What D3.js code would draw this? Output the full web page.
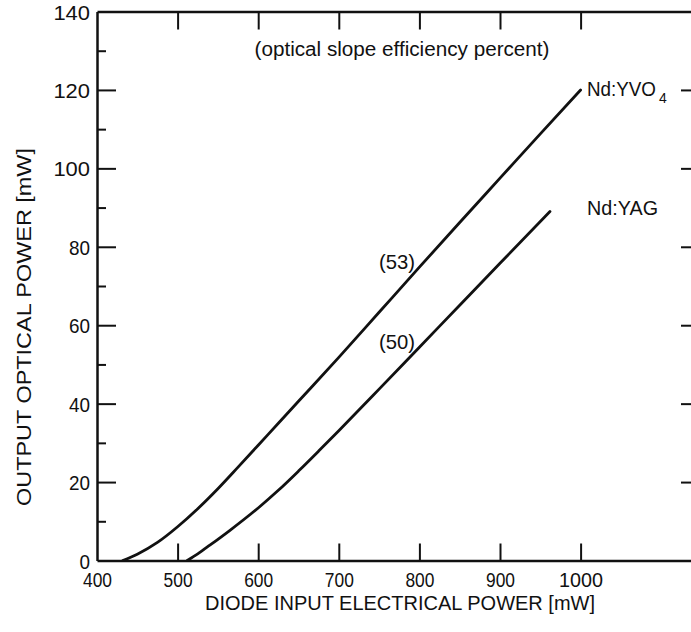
<!DOCTYPE html>
<html>
<head>
<meta charset="utf-8">
<script src="https://cdn.jsdelivr.net/npm/d3@7"></script>
<style>
  html, body { margin: 0; padding: 0; background: #fff; }
  svg { display: block; }
  text { font-family: "Liberation Sans", Arial, sans-serif; fill: #111; }
</style>
</head>
<body>
<script>
// ---- data ----
const yvo4X = [432, 450, 475, 500, 525, 550, 575, 600, 625, 650, 700, 750, 800, 850, 900, 950, 1000];
const yvo4Y = [0, 1.6, 4.6, 8.6, 13.2, 18.3, 23.8, 29.4, 35, 40.6, 51.8, 63.3, 74.8, 86.2, 97.5, 108.8, 120];
const yagX = [512, 525, 540, 565, 600, 625, 650, 675, 700, 750, 800, 850, 900, 962];
const yagY = [0, 1.7, 3.9, 7.7, 13.4, 17.9, 22.8, 27.9, 33.1, 43.7, 54.4, 65.1, 75.8, 89];
const xTicks = [400, 500, 600, 700, 800, 900, 1000];
const yTicks = [0, 20, 40, 60, 80, 100, 120, 140];
const yMinor = [10, 30, 50, 70, 90, 110, 130];
const seriesNames = ["Nd:YVO", "Nd:YAG"];
const subscript = "4";
const slopeLabels = ["(53)", "(50)"];
const xTitle = "DIODE INPUT ELECTRICAL POWER [mW]";
const yTitle = "OUTPUT OPTICAL POWER [mW]";
const note = "(optical slope efficiency percent)";

const W = 691, H = 632;
const svg = d3.select("body").append("svg").attr("width", W).attr("height", H);

const x = d3.scaleLinear().domain([400, 1150]).range([97, 97 + 750 * 0.806]);
const y = d3.scaleLinear().domain([0, 140]).range([560.5, 11.5]);

const axisColor = "#111";
function styleAxis(g, sw) {
  g.select(".domain").attr("stroke", axisColor).attr("stroke-width", sw);
  g.selectAll(".tick line").attr("stroke", axisColor).attr("stroke-width", 2);
}

// bottom axis
const gb = svg.append("g").attr("transform", `translate(0,${y(0)})`)
  .call(d3.axisBottom(x).tickValues(xTicks).tickSizeInner(-17).tickSizeOuter(0).tickPadding(0).tickFormat(d3.format("d")));
styleAxis(gb, 2.5);
gb.selectAll(".tick").filter(d => d === 400).select("line").remove();
gb.selectAll(".tick text").attr("font-size", 20).attr("fill", "#111")
  .attr("y", 26).attr("dy", "0")
  .attr("textLength", d => String(d).length > 3 ? 44 : 29)
  .attr("lengthAdjust", "spacingAndGlyphs");

// top axis
const gt = svg.append("g").attr("transform", `translate(0,${y(140)})`)
  .call(d3.axisTop(x).tickValues(xTicks.filter(d => d > 400)).tickSizeInner(-18).tickSizeOuter(0).tickFormat(""));
styleAxis(gt, 2.5);

// left axis
const gl = svg.append("g").attr("transform", `translate(${x(400)},0)`)
  .call(d3.axisLeft(y).tickValues(yTicks).tickSizeInner(-19).tickSizeOuter(0).tickPadding(8).tickFormat(d3.format("d")));
styleAxis(gl, 2.5);
gl.selectAll(".tick").filter(d => d === 0 || d === 140).select("line").remove();
gl.selectAll(".tick text").attr("font-size", 21).attr("fill", "#111").attr("x", -7).attr("dy", "0.36em")
  .attr("textLength", d => String(d).length * (String(d).length === 3 ? 12.2 : 10.5))
  .attr("lengthAdjust", "spacingAndGlyphs");

const glm = svg.append("g").attr("transform", `translate(${x(400)},0)`)
  .call(d3.axisLeft(y).tickValues(yMinor).tickSizeInner(-9).tickSizeOuter(0).tickFormat(""));
glm.select(".domain").remove();
glm.selectAll(".tick line").attr("stroke", axisColor).attr("stroke-width", 2);

// right axis (mostly outside view)
const gr = svg.append("g").attr("transform", `translate(${x(1150)},0)`)
  .call(d3.axisRight(y).tickValues(yTicks.filter(d => d > 0 && d < 140)).tickSizeInner(-(x(1150) - 681)).tickSizeOuter(0).tickFormat(""));
styleAxis(gr, 2.5);

// curves
const line = d3.line().x(d => x(d[0])).y(d => y(d[1])).curve(d3.curveMonotoneX);
const curves = [d3.zip(yvo4X, yvo4Y), d3.zip(yagX, yagY)];
svg.selectAll("path.curve").data(curves).join("path")
  .attr("class", "curve")
  .attr("d", line)
  .attr("fill", "none")
  .attr("stroke", "#111")
  .attr("stroke-width", 2.8)
  .attr("stroke-linecap", "round");

// axis titles
svg.append("text").attr("x", 400).attr("y", 610).attr("text-anchor", "middle")
  .attr("font-size", 21).attr("textLength", 390).attr("lengthAdjust", "spacingAndGlyphs").text(xTitle);
svg.append("text").attr("transform", "translate(31,327) rotate(-90)").attr("text-anchor", "middle")
  .attr("font-size", 21).attr("textLength", 358).attr("lengthAdjust", "spacingAndGlyphs").text(yTitle);

// annotation
svg.append("text").attr("x", 402).attr("y", 56).attr("text-anchor", "middle")
  .attr("font-size", 20).attr("textLength", 295).attr("lengthAdjust", "spacingAndGlyphs").text(note);

// series labels
svg.append("text").attr("x", 587).attr("y", 96).attr("font-size", 20)
  .attr("textLength", 69).attr("lengthAdjust", "spacingAndGlyphs").text(seriesNames[0]);
svg.append("text").attr("x", 659).attr("y", 103).attr("font-size", 14).text(subscript);
svg.append("text").attr("x", 587).attr("y", 215).attr("font-size", 21)
  .attr("textLength", 71).attr("lengthAdjust", "spacingAndGlyphs").text(seriesNames[1]);

// slope labels
svg.append("text").attr("x", 379).attr("y", 269).attr("font-size", 21)
  .attr("textLength", 36).attr("lengthAdjust", "spacingAndGlyphs").text(slopeLabels[0]);
svg.append("text").attr("x", 379).attr("y", 349).attr("font-size", 21)
  .attr("textLength", 36).attr("lengthAdjust", "spacingAndGlyphs").text(slopeLabels[1]);
</script>
</body>
</html>
